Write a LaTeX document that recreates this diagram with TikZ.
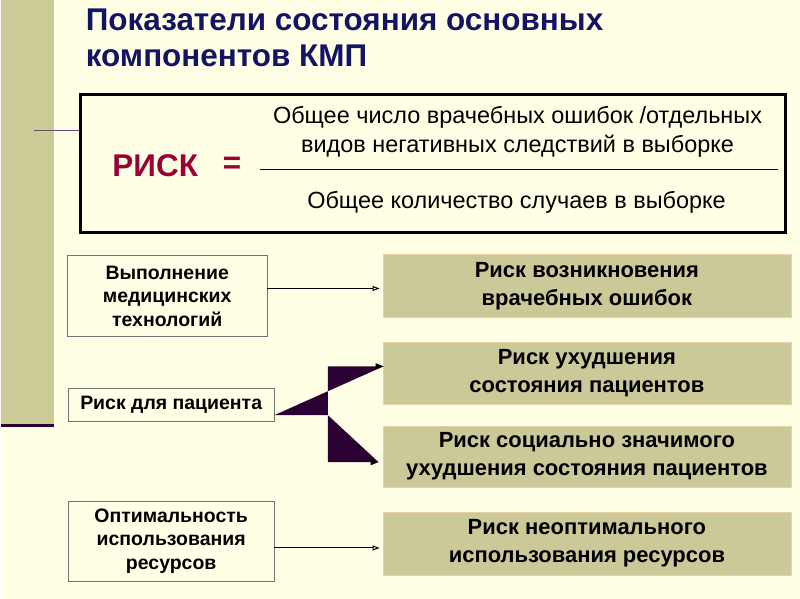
\documentclass[tikz,border=0pt]{standalone}
\usepackage{fontspec}
\setmainfont{Liberation Sans}
\usetikzlibrary{arrows.meta,positioning}

\definecolor{slidebg}{RGB}{255,255,229}
\definecolor{stripcol}{RGB}{204,204,153}
\definecolor{boxfill}{RGB}{204,201,153}
\definecolor{boxedge}{RGB}{232,208,164}
\definecolor{titlecol}{RGB}{20,20,100}
\definecolor{riskred}{RGB}{153,0,51}
\definecolor{darkfork}{RGB}{43,0,51}

\begin{document}
\begin{tikzpicture}[
        x=1pt, y=-1pt,
        factor/.style={
            draw=black!55,
            fill=slidebg,
            align=center,
            inner sep=1mm,
            font=\bfseries\fontsize{19.5}{23.5}\selectfont
        },
        risk/.style={
            draw=boxedge,
            fill=boxfill,
            align=center,
            minimum width=409pt,
            inner sep=1mm,
            font=\bfseries\fontsize{22}{28}\selectfont
        },
        plain/.style={
            align=center,
            font=\fontsize{23.5}{29}\selectfont
        },
        link/.style={
            line width=1pt,
            -{Triangle[open,length=7pt,width=5pt]}
        }
    ]

        % slide background and left strip
        \fill[slidebg] (0,0) rectangle (800,600);
        \fill[stripcol] (0,0) rectangle (53,425);
        \draw[darkfork, line width=3pt] (0,426.5) -- (53,426.5);

        \node[anchor=north west, align=left, text=titlecol,
              font=\bfseries\fontsize{31.5}{36}\selectfont] (title) at (81,5)
            {Показатели состояния основных\\компонентов КМП};

        % formula box
        \node[draw, line width=3pt, minimum width=706pt, minimum height=138pt]
            (formula) at (432.5,163.5) {};
        \coordinate (lead) at (33,131);
        \draw[darkfork!70, line width=1pt] (lead) -- (formula.west |- lead);

        \node[text=riskred, font=\bfseries\fontsize{31.5}{36}\selectfont]
            (risk) at (154,166) {РИСК};
        \node[text=riskred, font=\bfseries\fontsize{31.5}{36}\selectfont]
            (equals) at (231,166) {=};
        \node[plain] (numer) at (517,132)
            {Общее число врачебных ошибок /отдельных\\
             видов негативных следствий в выборке};
        \coordinate (barl) at (259,170);
        \coordinate (barr) at (778,170);
        \draw[line width=1.2pt] (barl) -- (barr);
        \node[plain] (denom) at (516,203)
            {Общее количество случаев в выборке};

        % factors on the left
        \node[factor, minimum width=200pt, minimum height=81pt] (tech) at (166,296.5)
            {Выполнение\\медицинских\\технологий};
        \node[factor, minimum width=206pt, minimum height=33pt] (patient) at (170,405.5)
            {Риск для пациента};
        \node[factor, minimum width=206pt, minimum height=80pt] (usage) at (170,542)
            {Оптимальность\\использования\\ресурсов};

        % risks on the right
        \node[risk, minimum height=63pt] (errors) at (586.5,286.5)
            {Риск возникновения\\врачебных ошибок};
        \node[risk, minimum height=62pt] (worse) at (586.5,374)
            {Риск ухудшения\\состояния пациентов};
        \node[risk, minimum height=61pt] (social) at (586.5,457.5)
            {Риск социально значимого\\ухудшения состояния пациентов};
        \node[risk, minimum height=63pt] (waste) at (586.5,544.5)
            {Риск неоптимального\\использования ресурсов};

        \draw[link] (tech.east |- 0,289) -- ([xshift=-3pt]errors.west |- 0,289);
        \draw[link] (usage.east |- 0,549) -- ([xshift=-3pt]waste.west |- 0,549);

        % forked connector from the patient box
        \coordinate (start) at ([yshift=-10.5pt]patient.east);
        \coordinate (fork) at (327,416);
        \coordinate (upend) at ([xshift=1pt]worse.west |- 0,367);
        \coordinate (lowend) at ([xshift=-4pt]social.west |- 0,463);
        \fill[darkfork] (start) -- (fork) -- (fork |- upend) -- (upend) -- cycle;
        \fill[darkfork] (fork) -- (fork |- lowend) -- (lowend) -- cycle;
        \draw[-{Triangle[length=8pt,width=6pt]}, line width=1pt]
            ([xshift=-8pt]upend) -- (upend);
        \draw[-{Triangle[length=8pt,width=6pt]}, line width=1pt]
            ([xshift=-8pt]lowend) -- (lowend);

    \end{tikzpicture}
\end{document}
